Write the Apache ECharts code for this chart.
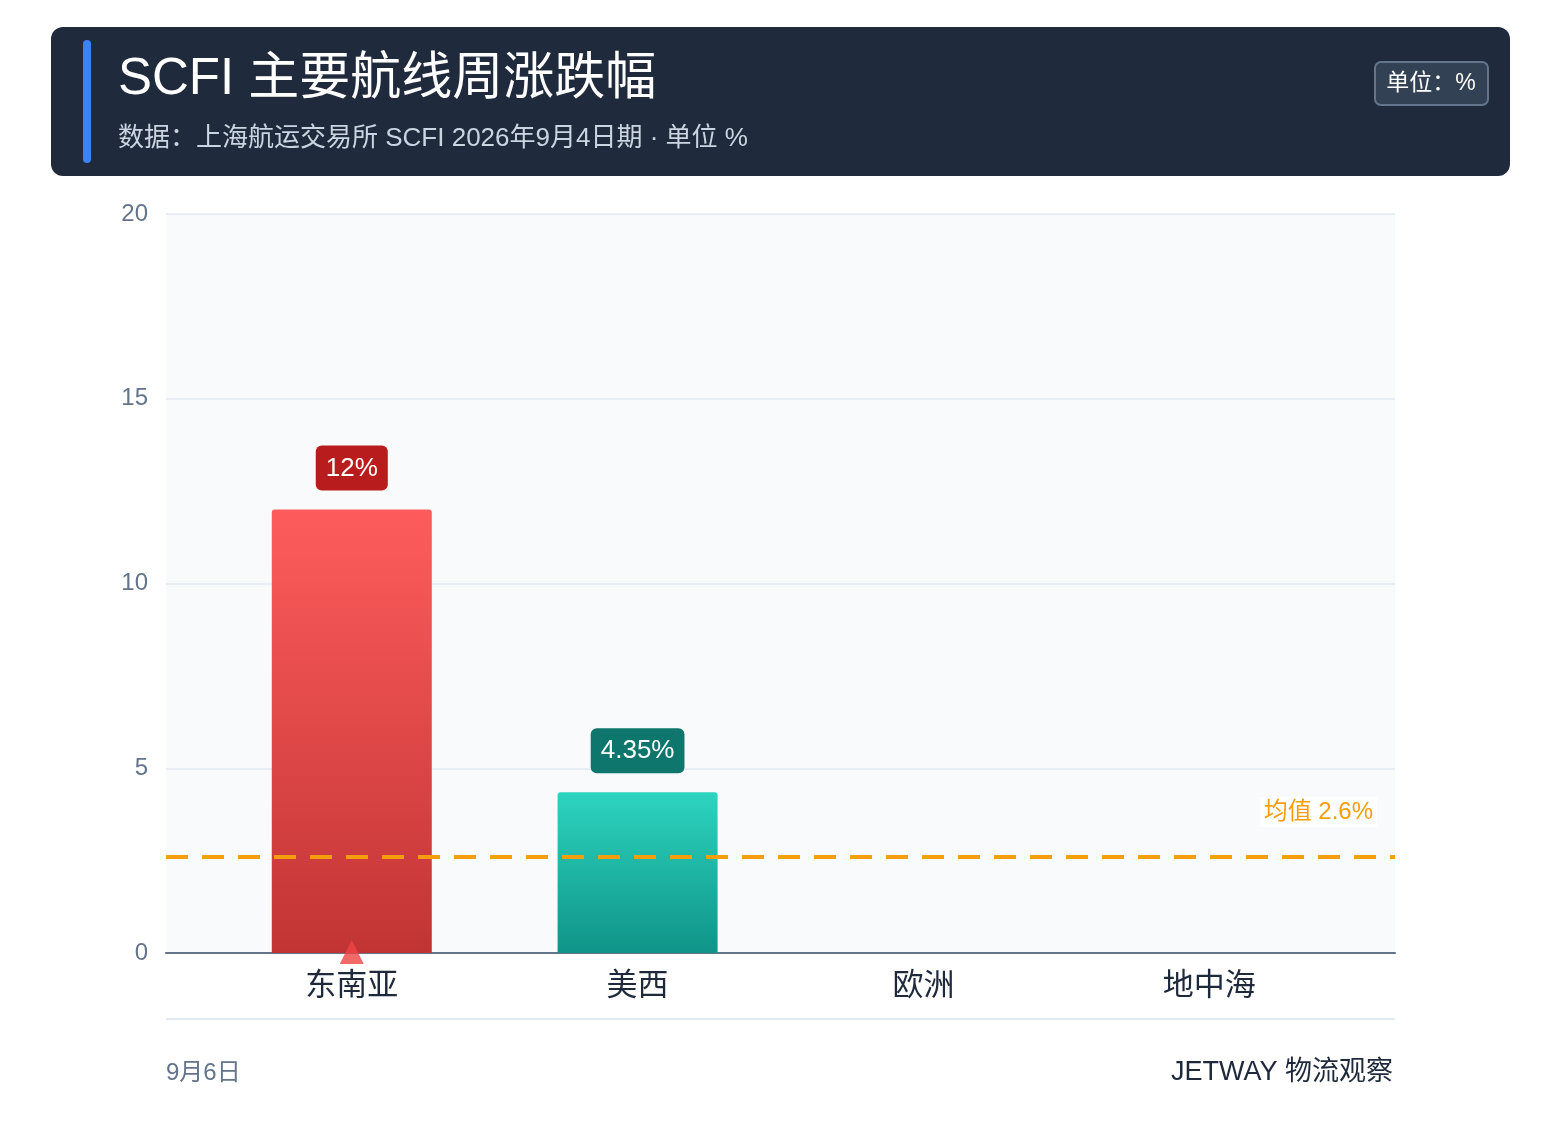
<!DOCTYPE html>
<html><head><meta charset="utf-8">
<script src="https://cdn.jsdelivr.net/npm/echarts@6/dist/echarts.min.js"></script>
<style>html,body{margin:0;padding:0;background:#fff}#c{width:1561px;height:1145px}</style>
</head><body><div id="c"></div>
<script>
const categories = ['东南亚', '美西', '欧洲', '地中海'];
const changes = [12, 4.35, null, null];
const labels = ['12%', '4.35%', '', ''];
const upMarkers = [0, null, null, null];
const meanValue = [2.6];
const yTicks = [0, 5, 10, 15, 20];

const F = '"Liberation Sans","Noto Sans CJK SC",sans-serif';
const chart = echarts.init(document.getElementById('c'));
const grad = (a, b) => new echarts.graphic.LinearGradient(0, 0, 0, 1, [{offset: 0, color: a}, {offset: 1, color: b}]);
const barColors = [grad('#fe5c5c', '#c23434'), grad('#2dd4bf', '#0f9488')];
const labelBg = ['#b91c1c', '#0f766e'];
const idx = categories.map((c, i) => i);

chart.setOption({
  animation: false,
  textStyle: {fontFamily: F},
  graphic: [
    {type: 'rect', shape: {x: 51, y: 27, width: 1459, height: 149, r: 12}, style: {fill: '#1f2a3c'}},
    {type: 'rect', shape: {x: 83, y: 40, width: 8, height: 123, r: 4}, style: {fill: '#3b82f6'}},
    {type: 'text', left: 118, top: 54, style: {text: 'SCFI 主要航线周涨跌幅', fill: '#fff', font: '51px ' + F}},
    {type: 'text', left: 118, top: 126, style: {text: '数据：上海航运交易所 SCFI 2026年9月4日期 · 单位 %', fill: '#cbd5e1', font: '26px ' + F}},
    {type: 'rect', shape: {x: 1375, y: 62, width: 113, height: 43, r: 6}, style: {fill: '#334155', stroke: '#64748b', lineWidth: 2}},
    {type: 'text', x: 1431, y: 84, style: {text: '单位：%', fill: '#fff', font: '23px ' + F, align: 'center', verticalAlign: 'middle'}},
    {type: 'line', shape: {x1: 166, y1: 1019, x2: 1395, y2: 1019}, style: {stroke: '#e2e8f0', lineWidth: 2}},
    {type: 'text', left: 166, top: 1061, style: {text: '9月6日', fill: '#64748b', font: '24px ' + F}},
    {type: 'text', right: 168, top: 1059, style: {text: 'JETWAY 物流观察', fill: '#1e293b', font: '27px ' + F}}
  ],
  grid: {left: 166, right: 166, top: 214, bottom: 192, show: true, backgroundColor: '#f8fafc', borderWidth: 0},
  xAxis: {type: 'value', min: -0.65, max: 3.65, splitLine: {show: false},
    axisLine: {onZero: false, lineStyle: {color: '#64748b', width: 2}}, axisTick: {show: false},
    axisLabel: {customValues: idx, formatter: v => categories[Math.round(v)] || '', color: '#1e293b', fontSize: 31, margin: 18}},
  yAxis: {type: 'value', min: yTicks[0], max: yTicks[yTicks.length - 1], interval: 5,
    axisLine: {show: false}, axisTick: {show: false},
    axisLabel: {color: '#64748b', fontSize: 24, margin: 18},
    splitLine: {lineStyle: {color: '#e2e8f0', width: 1.5}}},
  series: [
    {type: 'bar', barWidth: 160,
      data: changes.map((v, i) => ({value: [i, v], itemStyle: {color: barColors[i] || '#999', borderRadius: [3, 3, 0, 0]},
        label: {show: v != null, position: 'top', distance: 19, formatter: labels[i], color: '#fff', fontSize: 26,
          backgroundColor: labelBg[i] || '#999', padding: [10, 10, 9, 10], borderRadius: 6}})),
      markLine: {symbol: 'none', silent: true,
        lineStyle: {color: '#f59e0b', type: [22, 14], width: 4},
        data: [{yAxis: meanValue[0]}],
        label: {position: 'insideEndTop', formatter: '均值 ' + meanValue[0] + '%', color: '#f59e0b', fontSize: 24,
          backgroundColor: 'rgba(255,255,255,0.85)', padding: [3, 4], distance: [0, 30], offset: [-18, 0]}}},
    {type: 'scatter', data: upMarkers.map((v, i) => [i, v]), symbol: 'triangle', symbolSize: [24, 24], symbolOffset: [0, -1],
      itemStyle: {color: '#ef4444'}, z: 5}
  ]
});
</script></body></html>
